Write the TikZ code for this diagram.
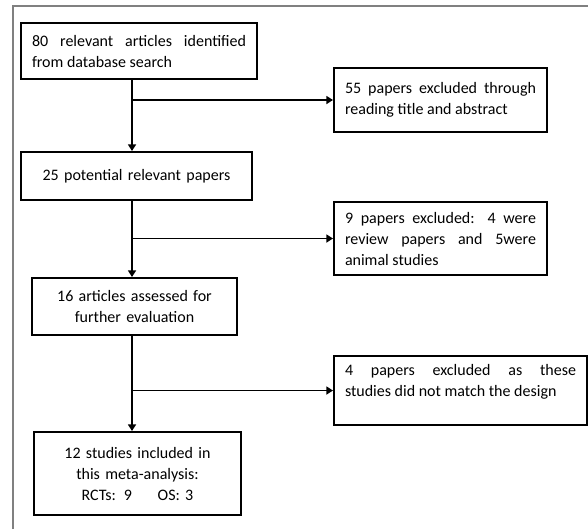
\documentclass[tikz,border=0pt]{standalone}
\usepackage{fontspec}
\setmainfont{Carlito}
\usetikzlibrary{arrows.meta}
\hyphenpenalty=10000
\begin{document}
\begin{tikzpicture}[
    x=0.75pt,
    y=-0.75pt,
    every node/.style={
    font=\fontsize{12}{15.75}\selectfont
    },
    flowbox/.style={
        draw=black,
        line width=1.5pt,
        inner xsep=8pt,
        inner ysep=3pt
    },
    link/.style={
        line width=1.4pt,
        -{Triangle[length=5pt,width=6pt]}
    }
]
\useasboundingbox (0,0) rectangle (588,529);

% Outer frame, open on the right and at the bottom
\draw[gray, line width=1.5pt] (13,529) -- (13,5.5) -- (588,5.5);

% Main column
\node[flowbox, minimum width=177pt, minimum height=42pt,
    text width=160.5pt, align=justify] (found) at (139,51)
    {80 relevant articles identified from database search};
\node[flowbox, minimum width=173.25pt, minimum height=36pt,
    text width=157pt, align=center] (potential) at (136.5,176)
    {25 potential relevant papers};
\node[flowbox, minimum width=153.75pt, minimum height=42.75pt,
    text width=137pt, align=center] (assessed) at (134.5,306.5)
    {16 articles assessed for\\further evaluation};
\node[flowbox, minimum width=155.25pt, minimum height=62.25pt,
    text width=139pt, align=center] (included) at (137.5,473.5)
    {12 studies included in\\this meta-analysis:\\RCTs: 9\hspace{1.6em}OS: 3};

% Exclusions
\node[flowbox, minimum width=159.75pt, minimum height=48pt,
    text width=143.25pt, align=justify] (excl1) at (440.5,100)
    {55 papers excluded through reading title and abstract};
\node[flowbox, minimum width=159.75pt, minimum height=54.75pt,
    text width=143.25pt, align=justify] (excl2) at (440.5,238.5)
    {9 papers excluded: 4 were review papers and 5were animal studies};
\node[flowbox, minimum width=189.75pt, minimum height=51.75pt,
    text width=173.25pt, align=justify] (excl3) at (460.5,390.5)
    {4 papers excluded as these\linebreak studies did not match the design\par\mbox{}};

% Trunk line
\coordinate (trunk) at (132,0);
\foreach \from/\to in {found/potential, potential/assessed, assessed/included}{
    \draw[link] (\from.south -| trunk) -- (\to.north -| trunk);
}
\foreach \excl in {excl1, excl2, excl3}{
    \draw[link] (\excl.west -| trunk) -- (\excl.west);
}
\end{tikzpicture}
\end{document}
